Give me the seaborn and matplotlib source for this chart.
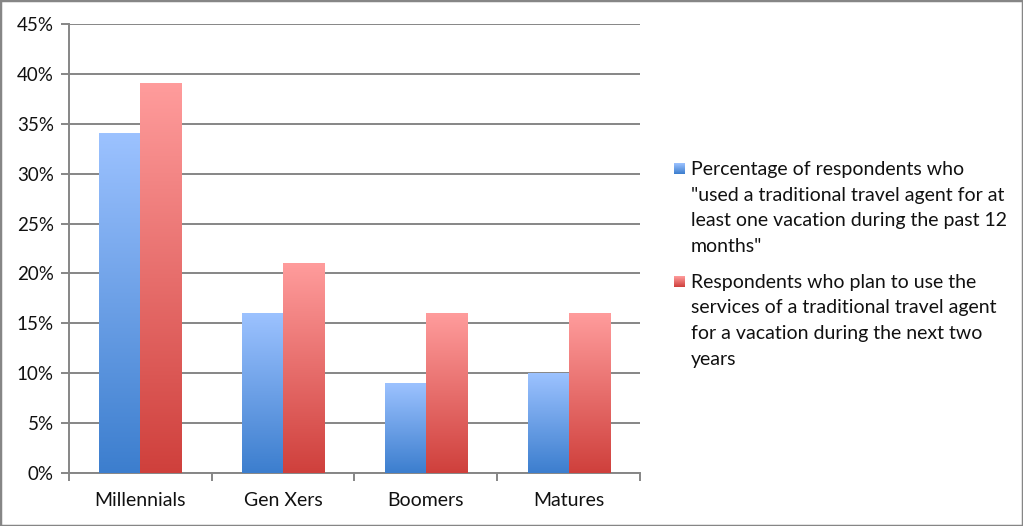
import numpy as np
import pandas as pd
import matplotlib
matplotlib.use('Agg')
import matplotlib.pyplot as plt
from matplotlib.colors import LinearSegmentedColormap
from matplotlib.patches import Rectangle
import seaborn as sns

# data
categories = ['Millennials', 'Gen Xers', 'Boomers', 'Matures']
used_agent = [34, 16, 9, 10]
plan_agent = [39, 21, 16, 16]
series_names = [
    'Percentage of respondents who\n"used a traditional travel agent for at\nleast one vacation during the past 12\nmonths"',
    'Respondents who plan to use the\nservices of a traditional travel agent\nfor a vacation during the next two\nyears',
]
y_ticks = [0, 5, 10, 15, 20, 25, 30, 35, 40, 45]

# gradient colours (top, bottom) per series
grad_colors = [('#9CC2FF', '#3C7ECE'), ('#FF9C9C', '#CF403C')]
mid_colors = ['#6FA0E8', '#E87070']

df = pd.DataFrame({
    'group': categories * 2,
    'value': used_agent + plan_agent,
    'series': [series_names[0]] * 4 + [series_names[1]] * 4,
})

sns.set_theme(style='white')
plt.rcParams['font.family'] = ['Lato', 'DejaVu Sans']

fig = plt.figure(figsize=(10.23, 5.26), dpi=100)
ax = fig.add_axes([69 / 1023, 53 / 526, 571 / 1023, 449 / 526])

sns.barplot(data=df, x='group', y='value', hue='series', palette=mid_colors,
            width=0.575, gap=0, saturation=1, legend=False, ax=ax, zorder=2)

# replace flat fill with a vertical gradient on each bar
for cont, (top, bot) in zip(ax.containers, grad_colors):
    cmap = LinearSegmentedColormap.from_list('g', [top, bot])
    for bar in cont:
        x0 = bar.get_x()
        w = bar.get_width()
        h = bar.get_height()
        grad = np.linspace(0, 1, 256).reshape(-1, 1)
        ax.imshow(grad, cmap=cmap, extent=[x0, x0 + w, 0, h], aspect='auto', zorder=3)
        bar.set_facecolor('none')
        bar.set_edgecolor('none')

ax.set_xlim(-0.5, 3.5)
ax.set_ylim(0, 45)

# axes styling (Excel look)
grid_c = '#868686'
txt_c = '#111111'
ax.set_yticks(y_ticks)
ax.set_yticklabels([f'{v}%' for v in y_ticks])
ax.yaxis.grid(True, color=grid_c, lw=1.4)
ax.set_axisbelow(True)
for s in ['top', 'right']:
    ax.spines[s].set_visible(False)
for s in ['left', 'bottom']:
    ax.spines[s].set_color(grid_c)
    ax.spines[s].set_linewidth(1.4)

ax.set_xticks([-0.5, 0.5, 1.5, 2.5, 3.5])
ax.set_xticklabels([''] * 5)
ax.set_xticks(range(len(categories)), minor=True)
ax.set_xticklabels(categories, minor=True)
ax.tick_params(axis='x', which='major', direction='out', length=6, width=1.4, color=grid_c, bottom=True)
ax.tick_params(axis='x', which='minor', length=0, pad=14, labelsize=14, labelcolor=txt_c)
ax.tick_params(axis='y', direction='out', length=6, width=1.4, color=grid_c, left=True,
               pad=5, labelsize=13.5, labelcolor=txt_c)
ax.set_xlabel('')
ax.set_ylabel('')

# legend drawn by hand so the key sits on the first line
line_h = 25.5
starts = [175, 288]
for name, (top, bot), y0 in zip(series_names, grad_colors, starts):
    cmap = LinearSegmentedColormap.from_list('g', [top, bot])
    kax = fig.add_axes([674 / 1023, 1 - (y0 - 1) / 526, 11 / 1023, 11 / 526])
    kax.imshow(np.linspace(0, 1, 64).reshape(-1, 1), cmap=cmap, aspect='auto')
    kax.axis('off')
    for i, line in enumerate(name.split('\n')):
        fig.text(691 / 1023, 1 - (y0 + i * line_h) / 526, line, fontsize=14,
                 color=txt_c, va='baseline', ha='left')

# outer chart border
fig.patches.append(Rectangle((0, 0), 1, 1, transform=fig.transFigure, fill=False,
                             edgecolor=grid_c, lw=2.5))

fig.savefig('out.png', dpi=100)
